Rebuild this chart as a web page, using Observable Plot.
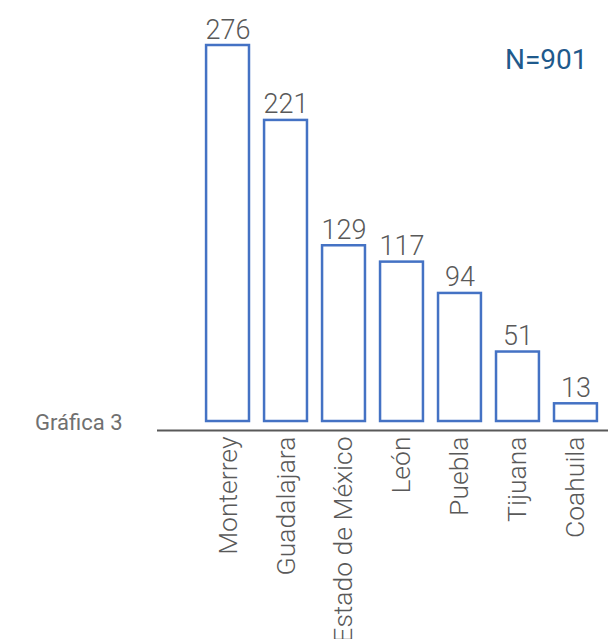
<!DOCTYPE html>
<html>
<head>
<meta charset="utf-8">
<script src="https://cdn.jsdelivr.net/npm/d3@7"></script>
<script src="https://cdn.jsdelivr.net/npm/@observablehq/plot@0.6"></script>
<style>
  html, body { margin: 0; padding: 0; background: #fff; }
  #chart svg { display: block; }
</style>
</head>
<body>
<div id="chart"></div>
<script>
const ciudades = ["Monterrey", "Guadalajara", "Estado de México", "León", "Puebla", "Tijuana", "Coahuila"];
const valores = [276, 221, 129, 117, 94, 51, 13];
const titulo = "Gráfica 3";
const total = "N=901";
const yFloor = -6.6;

const data = ciudades.map((c, i) => ({ciudad: c, valor: valores[i]}));

const chart = Plot.plot({
  width: 608,
  height: 639,
  marginTop: 45,
  marginBottom: 209,
  marginLeft: 157,
  marginRight: 0,
  style: {fontFamily: "Roboto, sans-serif", background: "#fff"},
  x: {domain: ciudades, range: [191, 612], padding: 0.26, round: false, label: null},
  y: {domain: [yFloor, d3.max(valores)], axis: null},
  marks: [
    Plot.barY(data, {x: "ciudad", y1: 0, y2: "valor", fill: "#fff", stroke: "#4472C4", strokeWidth: 2.5}),
    Plot.text(data, {x: "ciudad", y: "valor", text: d => String(d.valor), lineAnchor: "bottom", dy: -7, fill: "#595959", fontSize: 27, fontWeight: 350}),
    Plot.ruleY([yFloor], {stroke: "#595959", strokeWidth: 2}),
    Plot.axisX({tickSize: 0, tickPadding: 6, tickRotate: -90, fontSize: 26.5, fontWeight: 300, fill: "#595959", color: "#595959", label: null}),
    Plot.text([titulo], {frameAnchor: "bottom-left", text: d => d, textAnchor: "end", lineAnchor: "bottom", dx: -35, dy: -1, fill: "#707070", fontSize: 22}),
    Plot.text([total], {frameAnchor: "top-right", text: d => d, textAnchor: "end", lineAnchor: "bottom", dx: -21, dy: 23, fill: "#1F5A8C", fontSize: 28})
  ]
});
document.getElementById("chart").appendChild(chart);
</script>
</body>
</html>
